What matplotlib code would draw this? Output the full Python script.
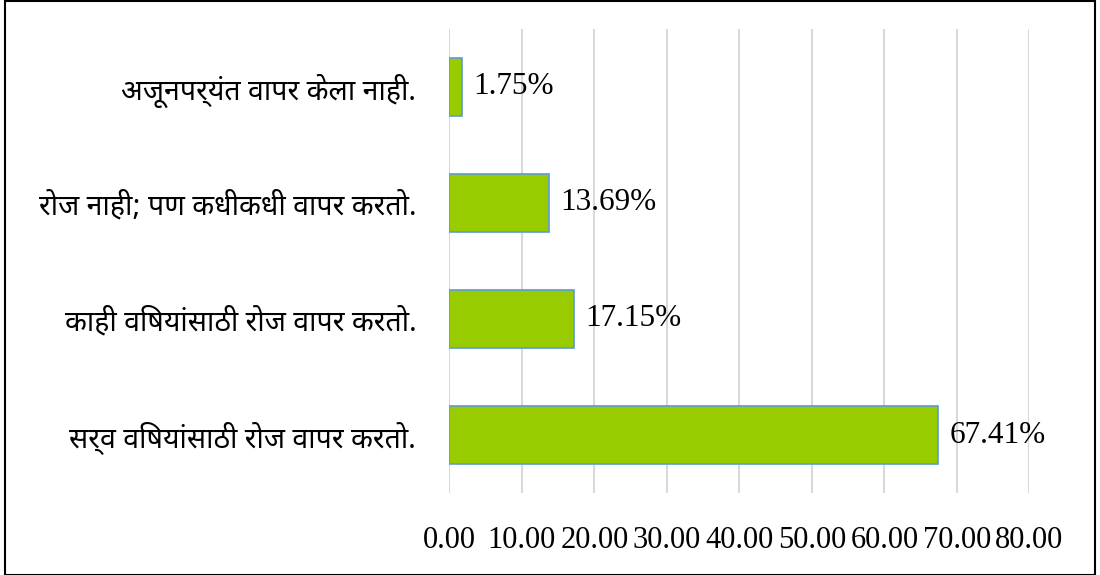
import matplotlib
matplotlib.use("Agg")
import matplotlib.pyplot as plt
from matplotlib import font_manager
from matplotlib.patches import Rectangle

# data (bottom to top)
categories = [
    "सर्व विषयांसाठी रोज वापर करतो.",
    "काही विषयांसाठी रोज वापर करतो.",
    "रोज नाही; पण कधीकधी वापर करतो.",
    "अजूनपर्यंत वापर केला नाही.",
]
percent = [67.41, 17.15, 13.69, 1.75]
xticks = [0, 10, 20, 30, 40, 50, 60, 70, 80]

# pick a Devanagari font that is installed
names = {f.name for f in font_manager.fontManager.ttflist}
deva_font = "DejaVu Sans"
for name in ["Noto Sans Devanagari", "Hind", "Mukta", "Poppins", "Akshar"]:
    if name in names:
        deva_font = name
        break
serif_font = "Liberation Serif"

fig = plt.figure(figsize=(11, 5.75), dpi=100)
ax = fig.add_axes([0.4086, 0.1426, 0.5273, 0.807])

y = range(len(categories))
ax.barh(y, percent, height=0.5, color="#99CC00", edgecolor="#5B9BD5",
        linewidth=1.2, zorder=3)

for yi, v in zip(y, percent):
    ax.text(v + 1.6, yi, "%.2f%%" % v, va="center", ha="left",
            fontsize=22.5, family=serif_font, zorder=4)

ax.set_xlim(0, 80)
ax.set_ylim(-0.5, 3.5)
ax.set_xticks(xticks)
ax.set_xticklabels(["%.2f" % t for t in xticks], family=serif_font, fontsize=22)
ax.set_yticks(list(y))
ax.set_yticklabels(categories, family=deva_font, fontsize=20.5)
ax.tick_params(axis="both", length=0)
ax.tick_params(axis="x", pad=24)
ax.tick_params(axis="y", pad=24)
ax.grid(axis="x", color="#D9D9D9", linewidth=1.5, zorder=0)
for s in ax.spines.values():
    s.set_visible(False)

# outer frame around the whole picture
fig.patches.append(Rectangle((5 / 1100, 0.5 / 575), 1090 / 1100, 574 / 575,
                             transform=fig.transFigure, fill=False,
                             edgecolor="black", linewidth=1.5))

fig.savefig("out.png", dpi=100)
